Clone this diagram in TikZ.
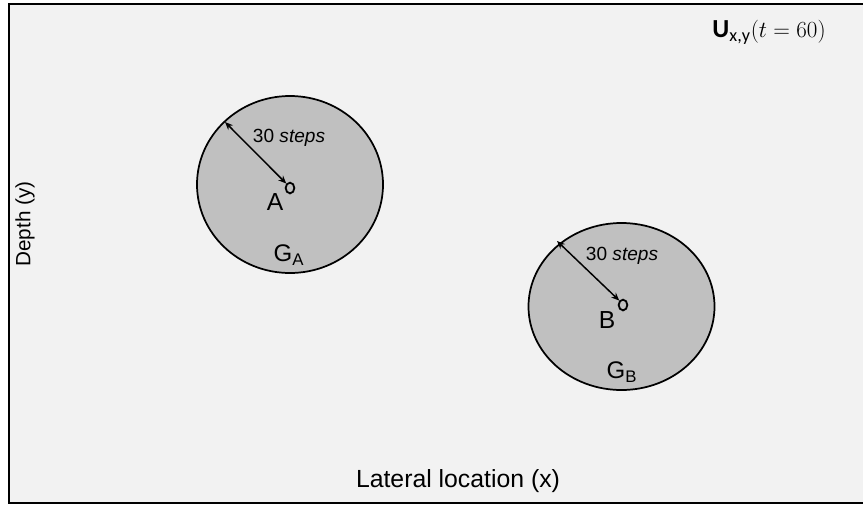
\documentclass[tikz,border=0pt]{standalone}
\usepackage{fontspec}
\setmainfont{Liberation Sans}
\newfontfamily\calib{Carlito}
\usetikzlibrary{arrows.meta,shapes.geometric}
\definecolor{bgc}{HTML}{F2F2F2}
\definecolor{discc}{HTML}{C0C0C0}
\tikzset{
  disc/.style={draw=black, line width=1.3pt, fill=discc},
  radarrow/.style={{Stealth[length=6pt,width=5pt]}-{Stealth[length=6pt,width=5pt]}, line width=1.1pt},
  centremark/.style={ellipse, draw=black, line width=1.4pt, minimum width=6.5pt, minimum height=8pt, inner sep=0pt},
  lbl/.style={inner sep=0pt, text=black},
}
\begin{document}
\begin{tikzpicture}[x=0.75pt, y=-0.75pt]
\useasboundingbox (0,0) rectangle (863,504);
\fill[white] (0,0) rectangle (863,504);
\draw[fill=bgc, line width=1.6pt] (9,4) rectangle (866,503);
% disc A
\draw[disc] (290,184.5) ellipse (93 and 88.5);
\node[centremark] (ca) at (290,188) {};
\coordinate (ea) at (225,122);
\draw[radarrow] (ea) -- (ca.north west);
\node[lbl, font=\fontsize{14.3}{16}\selectfont] (sa) at (289,138) {30 \textit{steps}};
\node[lbl, font=\fontsize{18.5}{20}\selectfont] (la) at (275,202) {A};
\node[lbl, font=\fontsize{18}{20}\selectfont] (ga) at (289,255) {G\textsubscript{A}};
% disc B
\draw[disc] (621.5,306.5) ellipse (93 and 83.5);
\node[centremark] (cb) at (623,305) {};
\coordinate (eb) at (557,241);
\draw[radarrow] (eb) -- (cb.north west);
\node[lbl, font=\fontsize{14.3}{16}\selectfont] (sb) at (622,256) {30 \textit{steps}};
\node[lbl, font=\fontsize{18.5}{20}\selectfont] (lb) at (607,320) {B};
\node[lbl, font=\fontsize{18}{20}\selectfont] (gb) at (622,372) {G\textsubscript{B}};
% axis labels
\node[lbl, font=\fontsize{18.6}{20}\selectfont, anchor=base] (xl) at (458,487) {Lateral location (x)};
\node[lbl, font=\fontsize{15.5}{18}\selectfont, rotate=90] (yl) at (25,224) {Depth (y)};
\node[lbl, anchor=base east] (ul) at (826,37) {{\calib\fontsize{19.5}{22}\selectfont\textbf{U}\textsubscript{x,y}}{\fontsize{18}{22}\selectfont$(t=60)$}};
\end{tikzpicture}
\end{document}
